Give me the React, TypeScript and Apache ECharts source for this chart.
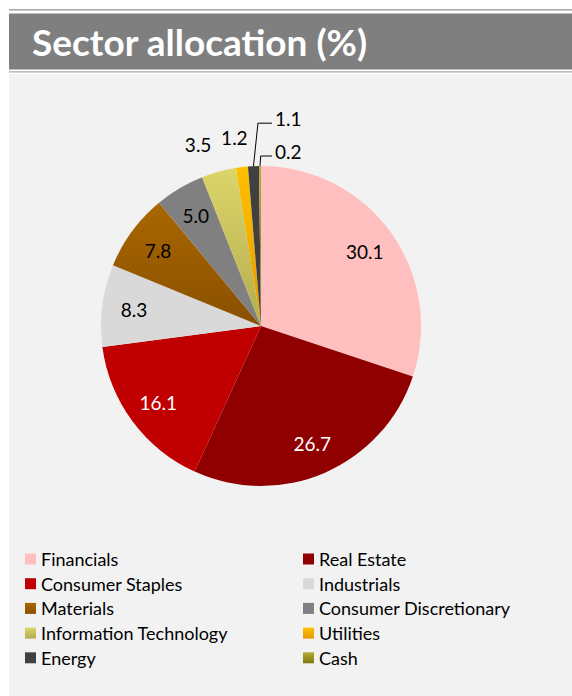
import React, { useEffect, useRef } from 'react';
import * as echarts from 'echarts';

const titleText = 'Sector allocation (%)';
const sectors = [
  'Financials',
  'Real Estate',
  'Consumer Staples',
  'Industrials',
  'Materials',
  'Consumer Discretionary',
  'Information Technology',
  'Utilities',
  'Energy',
  'Cash',
];
const allocation = [30.1, 26.7, 16.1, 8.3, 7.8, 5.0, 3.5, 1.2, 1.1, 0.2];
const legendLeftNames = ['Financials', 'Consumer Staples', 'Materials', 'Information Technology', 'Energy'];
const legendRightNames = ['Real Estate', 'Industrials', 'Consumer Discretionary', 'Utilities', 'Cash'];

const FONT = 'Lato, "Open Sans", "DejaVu Sans", sans-serif';
const CX = 261;
const CY = 326;
const R = 160;

const grad = (a: string, b: string) =>
  new echarts.graphic.LinearGradient(0, 0, 0, 1, [
    { offset: 0, color: a },
    { offset: 1, color: b },
  ]);

export default function App() {
  const ref = useRef<HTMLDivElement>(null);
  useEffect(() => {
    if (!ref.current) return;
    const chart = echarts.init(ref.current, undefined, { renderer: 'svg' });

    const colors: any[] = [
      '#ffbfbf',
      '#900000',
      '#c00000',
      '#d9d9d9',
      grad('#a96700', '#8a5000'),
      '#808080',
      grad('#dcd56a', '#b4ac4e'),
      grad('#ffc000', '#e49b00'),
      '#404040',
      grad('#b6ab36', '#7e780f'),
    ];
    const labelColors = ['#000', '#fff', '#fff', '#000', '#000', '#000', '#000', '#000', '#000', '#000'];

    const total = allocation.reduce((s, v) => s + v, 0);
    const mids: number[] = [];
    let acc = 0;
    allocation.forEach((v) => {
      mids.push(acc + v / 2);
      acc += v;
    });
    const ang = (i: number) => (mids[i] / total) * Math.PI * 2;

    const data = sectors.map((name, i) => ({
      name,
      value: allocation[i],
      itemStyle: { color: colors[i] },
      label: {
        position: i < 6 ? 'inside' : 'outside',
        color: labelColors[i],
      },
      labelLine: {
        show: i >= 8,
        lineStyle: { color: '#000', width: 1 },
      },
    }));

    const legendBase = {
      orient: 'vertical',
      top: 549,
      padding: 0,
      itemWidth: 11,
      itemHeight: 11,
      itemGap: 4.7,
      icon: 'rect',
      selectedMode: false,
      textStyle: { fontFamily: FONT, fontSize: 18, color: '#000', lineHeight: 20 },
    };

    chart.setOption({
      animation: false,
      backgroundColor: '#ffffff',
      title: {
        text: titleText,
        left: 27,
        top: 18,
        textStyle: { color: '#ffffff', fontFamily: FONT, fontWeight: 'bold', fontSize: 37 },
      },
      graphic: [
        { type: 'rect', z: -10, shape: { x: 9, y: 74, width: 563, height: 622 }, style: { fill: '#f2f2f2' } },
        { type: 'rect', z: -10, shape: { x: 9, y: 9, width: 563, height: 1.4 }, style: { fill: '#a6a6a6' } },
        { type: 'rect', z: -10, shape: { x: 9, y: 13.4, width: 563, height: 56 }, style: { fill: '#7f7f7f' } },
        { type: 'rect', z: -10, shape: { x: 9, y: 71.2, width: 563, height: 1.2 }, style: { fill: '#a6a6a6' } },
      ],
      legend: [
        { ...legendBase, left: 25, data: legendLeftNames },
        { ...legendBase, left: 303, data: legendRightNames },
      ],
      series: [
        {
          type: 'pie',
          center: [CX, CY],
          radius: [0, R],
          startAngle: 90,
          clockwise: true,
          avoidLabelOverlap: false,
          data,
          itemStyle: { borderWidth: 0 },
          label: {
            show: true,
            fontFamily: FONT,
            fontSize: 19,
            formatter: (p: any) => Number(p.value).toFixed(1),
          },
          labelLine: { show: false },
          emphasis: { disabled: true },
          labelLayout: (p: any) => {
            const i = p.dataIndex;
            const a = ang(i);
            const sx = Math.sin(a);
            const sy = -Math.cos(a);
            if (i < 6) {
              const r = R * 0.8;
              return { x: CX + r * sx, y: CY + r * sy, align: 'center', verticalAlign: 'middle' };
            }
            if (i === 6) {
              const r = R + 28;
              return { x: CX + r * sx, y: CY + r * sy, align: 'right', verticalAlign: 'middle' };
            }
            if (i === 7) {
              const r = R + 30;
              return { x: CX + r * sx - 4, y: CY + r * sy, align: 'center', verticalAlign: 'middle' };
            }
            const ex = CX + R * sx;
            const ey = CY + R * sy;
            const rise = i === 8 ? 43 : 10;
            const lean = i === 8 ? 4.5 : 0.7;
            const ly = ey - rise;
            const endX = CX + 11;
            return {
              x: endX + 3,
              y: ly - 5,
              align: 'left',
              verticalAlign: 'middle',
              labelLinePoints: [
                [ex, ey],
                [ex + lean, ly],
                [endX, ly],
              ],
            };
          },
        },
      ],
    });
    return () => chart.dispose();
  }, []);
  return <div ref={ref} style={{ position: 'absolute', left: 0, top: 0, width: 572, height: 696 }} />;
}
